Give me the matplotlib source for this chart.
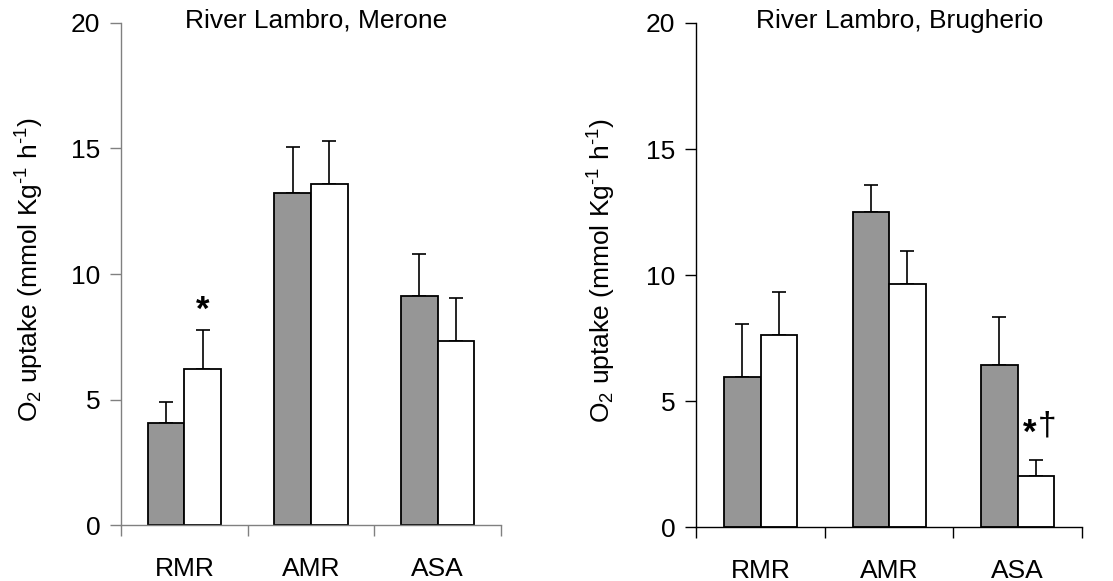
import matplotlib
matplotlib.use("Agg")
import matplotlib.pyplot as plt
import numpy as np

plt.rcParams['font.family'] = ['Liberation Sans', 'DejaVu Sans']
plt.rcParams['mathtext.fontset'] = 'custom'
plt.rcParams['mathtext.rm'] = 'Liberation Sans'
plt.rcParams['mathtext.it'] = 'Liberation Sans:italic'
plt.rcParams['mathtext.default'] = 'regular'

categories = ["RMR", "AMR", "ASA"]
titles = ["River Lambro, Merone", "River Lambro, Brugherio"]

merone_gray = [4.08, 13.24, 9.14]
merone_gray_err = [0.82, 1.83, 1.66]
merone_white = [6.21, 13.58, 7.33]
merone_white_err = [1.55, 1.70, 1.73]

brugherio_gray = [5.98, 12.51, 6.45]
brugherio_gray_err = [2.09, 1.06, 1.91]
brugherio_white = [7.64, 9.65, 2.02]
brugherio_white_err = [1.71, 1.31, 0.65]

# significance marks: (category index, series, star, dagger, y)
merone_marks = [(0, "white", "*", "", 8.55)]
brugherio_marks = [(2, "white", "*", "†", 3.72)]

yticks = [0, 5, 10, 15, 20]
ylabel = "O$_2$ uptake (mmol Kg$^{\u20101}$ h$^{\u20101}$)"

fig = plt.figure(figsize=(11.13, 5.81), dpi=100)
W, H = 1113, 581

def px_axes(x0, x1, ytop, ybot):
    return [x0 / W, 1 - ybot / H, (x1 - x0) / W, (ybot - ytop) / H]

ax1 = fig.add_axes(px_axes(121, 501, 22.7, 525.3))
ax2 = fig.add_axes(px_axes(696.3, 1082, 23, 527.3))

FS = 19

def draw(ax, gray, gerr, white, werr, marks, title, title_x, spine_color, bw):
    n = len(categories)
    centers = np.arange(n) + 0.5
    ax.bar(centers - bw / 2, gray, width=bw, color="#969696", edgecolor="black",
           linewidth=1.3, zorder=2)
    ax.bar(centers + bw / 2, white, width=bw, color="white", edgecolor="black",
           linewidth=1.3, zorder=2)
    ax.errorbar(centers - bw / 2, gray, yerr=[np.zeros(n), gerr], fmt="none",
                ecolor="black", elinewidth=1.2, capsize=5, capthick=1.2, zorder=1)
    ax.errorbar(centers + bw / 2, white, yerr=[np.zeros(n), werr], fmt="none",
                ecolor="black", elinewidth=1.2, capsize=5, capthick=1.2, zorder=1)
    for idx, series, star, dag, yv in marks:
        xx = centers[idx] + (bw / 2 if series == "white" else -bw / 2)
        if dag:
            ax.text(xx, yv, star, ha="right", va="center", fontsize=FS + 6,
                    fontweight="bold", color="black")
            ax.text(xx + 0.01, yv + 0.3, dag, ha="left", va="center", fontsize=FS + 5,
                    color="black")
        else:
            ax.text(xx, yv, star, ha="center", va="center", fontsize=FS + 6,
                    fontweight="bold", color="black")
    ax.set_xlim(0, n)
    ax.set_ylim(0, 20)
    ax.set_yticks(yticks)
    ax.set_yticklabels([str(t) for t in yticks], fontsize=FS)
    ax.set_xticks(np.arange(n + 1))
    ax.set_xticklabels([])
    ax.set_xticks(centers, minor=True)
    ax.set_xticklabels(categories, minor=True, fontsize=FS)
    ax.tick_params(axis="x", which="minor", length=0, pad=23)
    ax.tick_params(axis="x", which="major", length=8, width=1, color=spine_color, direction="out")
    ax.tick_params(axis="y", length=8, width=1, color=spine_color, direction="out", pad=7)
    for s in ["top", "right"]:
        ax.spines[s].set_visible(False)
    for s in ["left", "bottom"]:
        ax.spines[s].set_color(spine_color)
        ax.spines[s].set_linewidth(1.0)
    ax.text(title_x, 0.9895, title, transform=ax.transAxes, ha="center", va="baseline",
            fontsize=FS)
    ax.patch.set_alpha(0)

draw(ax1, merone_gray, merone_gray_err, merone_white, merone_white_err, merone_marks,
     titles[0], 0.513, "#808080", 0.29)
draw(ax2, brugherio_gray, brugherio_gray_err, brugherio_white, brugherio_white_err,
     brugherio_marks, titles[1], 0.527, "#000000", 0.285)

ax1.text(-0.24, 0.508, ylabel, transform=ax1.transAxes, rotation=90, ha="center",
         va="center", fontsize=FS)
ax2.text(-0.245, 0.509, ylabel, transform=ax2.transAxes, rotation=90, ha="center",
         va="center", fontsize=FS)

fig.savefig("out.png", dpi=100)
